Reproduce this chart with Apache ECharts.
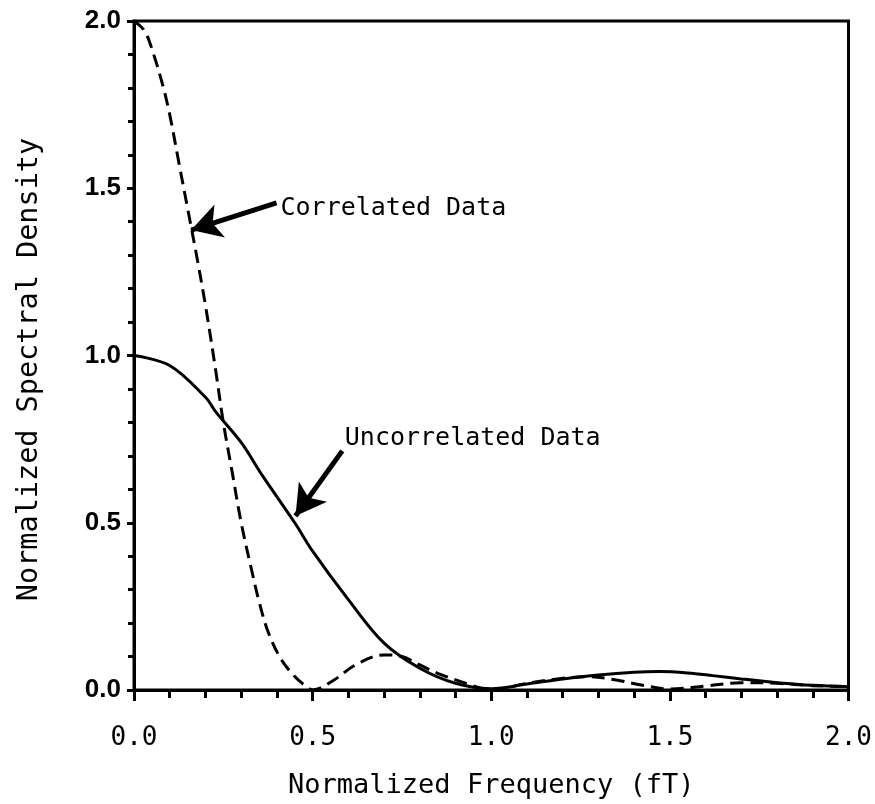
<!DOCTYPE html>
<html>
<head>
<meta charset="utf-8">
<script src="https://cdn.jsdelivr.net/npm/echarts@6/dist/echarts.min.js"></script>
<style>
html,body{margin:0;padding:0;background:#fff;}
#chart{width:875px;height:804px;}
</style>
</head>
<body>
<div id="chart"></div>
<script>
// Uncorrelated data (solid): [fT, density]
const uncorrelatedData = [
  [0, 1.0], [0.1, 0.97], [0.2, 0.875], [0.23, 0.83], [0.3, 0.74], [0.36, 0.64],
  [0.45, 0.50], [0.5, 0.415], [0.6, 0.27], [0.7, 0.14], [0.8, 0.065], [0.9, 0.02],
  [1.0, 0.004], [1.1, 0.018], [1.2, 0.033], [1.3, 0.045], [1.4, 0.053], [1.47, 0.055],
  [1.55, 0.051], [1.62, 0.043], [1.7, 0.033], [1.8, 0.022], [1.9, 0.014], [2.0, 0.01]
];
// Correlated data (dashed): [fT, density]
const correlatedData = [
  [0, 2.0], [0.03, 1.97], [0.055, 1.90], [0.08, 1.81], [0.1, 1.72], [0.125, 1.58],
  [0.15, 1.44], [0.175, 1.30], [0.2, 1.15], [0.228, 0.96], [0.25, 0.80], [0.275, 0.65],
  [0.3, 0.50], [0.33, 0.355], [0.35, 0.265], [0.375, 0.175], [0.41, 0.095], [0.45, 0.04],
  [0.48, 0.012], [0.5, 0.0], [0.56, 0.03], [0.62, 0.075], [0.7, 0.105], [0.75, 0.10],
  [0.8, 0.075], [0.85, 0.05], [0.93, 0.02], [1.0, 0.0], [1.1, 0.02], [1.2, 0.035],
  [1.27, 0.04], [1.35, 0.03], [1.42, 0.015], [1.5, 0.003], [1.6, 0.012], [1.7, 0.022],
  [1.8, 0.02], [1.9, 0.013], [2.0, 0.01]
];
// Annotation anchors in data coordinates
const correlatedNote = { text: 'Correlated Data', at: [0.41, 1.44], tail: [0.399, 1.456], tip: [0.16, 1.375] };
const uncorrelatedNote = { text: 'Uncorrelated Data', at: [0.59, 0.753], tail: [0.583, 0.715], tip: [0.452, 0.52] };
const xTicks = ['0.0', '0.5', '1.0', '1.5', '2.0'];
const xTitle = 'Normalized Frequency (fT)';
const yTitle = 'Normalized Spectral Density';

const mono = '"DejaVu Sans Mono", monospace';
const chart = echarts.init(document.getElementById('chart'));

function arrowLine(note) {
  return {
    silent: true,
    symbol: ['none', 'arrow'],
    symbolSize: [26, 30],
    label: { show: false },
    lineStyle: { color: '#000', width: 5, type: 'solid' },
    data: [[{ coord: note.tail }, { coord: note.tip }]]
  };
}
function notePoint(note) {
  return {
    silent: true,
    symbol: 'circle',
    symbolSize: 0,
    label: {
      show: true, position: 'right', distance: 0,
      formatter: note.text, color: '#000',
      fontFamily: mono, fontSize: 25
    },
    data: [{ coord: note.at }]
  };
}

chart.setOption({
  animation: false,
  backgroundColor: '#fff',
  grid: { left: 134, right: 24, top: 21, bottom: 114, show: true, borderColor: '#000', borderWidth: 3 },
  xAxis: {
    type: 'value', min: 0, max: 2, interval: 0.5,
    name: xTitle, nameLocation: 'middle', nameGap: 82,
    nameTextStyle: { fontFamily: mono, fontSize: 27, color: '#000' },
    axisLine: { onZero: false, lineStyle: { color: '#000', width: 3 } },
    axisTick: { show: true, inside: false, length: 11, lineStyle: { color: '#000', width: 3 } },
    minorTick: { show: true, splitNumber: 5, length: 8, lineStyle: { color: '#000', width: 3 } },
    axisLabel: {
      margin: 35, fontFamily: mono, fontSize: 26, color: '#000',
      formatter: function (v) { return xTicks[Math.round(v / 0.5)]; }
    },
    splitLine: { show: false }, minorSplitLine: { show: false }
  },
  yAxis: {
    type: 'value', min: 0, max: 2, interval: 0.5,
    name: yTitle, nameLocation: 'middle', nameGap: 90, nameRotate: 90,
    nameTextStyle: { fontFamily: mono, fontSize: 28.5, color: '#000', padding: [0, 28, 0, 0] },
    axisLine: { onZero: false, lineStyle: { color: '#000', width: 3 } },
    axisTick: { show: true, inside: false, length: 7, lineStyle: { color: '#000', width: 3 } },
    minorTick: { show: true, splitNumber: 5, length: 6, lineStyle: { color: '#000', width: 3 } },
    axisLabel: {
      margin: 13, fontFamily: '"Liberation Sans", Arial, sans-serif', fontWeight: 'bold',
      fontSize: 26, color: '#000',
      formatter: function (v) { return v.toFixed(1); }
    },
    splitLine: { show: false }, minorSplitLine: { show: false }
  },
  series: [
    {
      name: 'Uncorrelated Data', type: 'line', data: uncorrelatedData,
      showSymbol: false, smooth: 0.35, clip: true,
      lineStyle: { color: '#000', width: 3, type: 'solid' },
      markLine: arrowLine(uncorrelatedNote),
      markPoint: notePoint(uncorrelatedNote)
    },
    {
      name: 'Correlated Data', type: 'line', data: correlatedData,
      showSymbol: false, smooth: 0.35, clip: true,
      lineStyle: { color: '#000', width: 3, type: [13, 7] },
      markLine: arrowLine(correlatedNote),
      markPoint: notePoint(correlatedNote)
    }
  ]
});
</script>
</body>
</html>
